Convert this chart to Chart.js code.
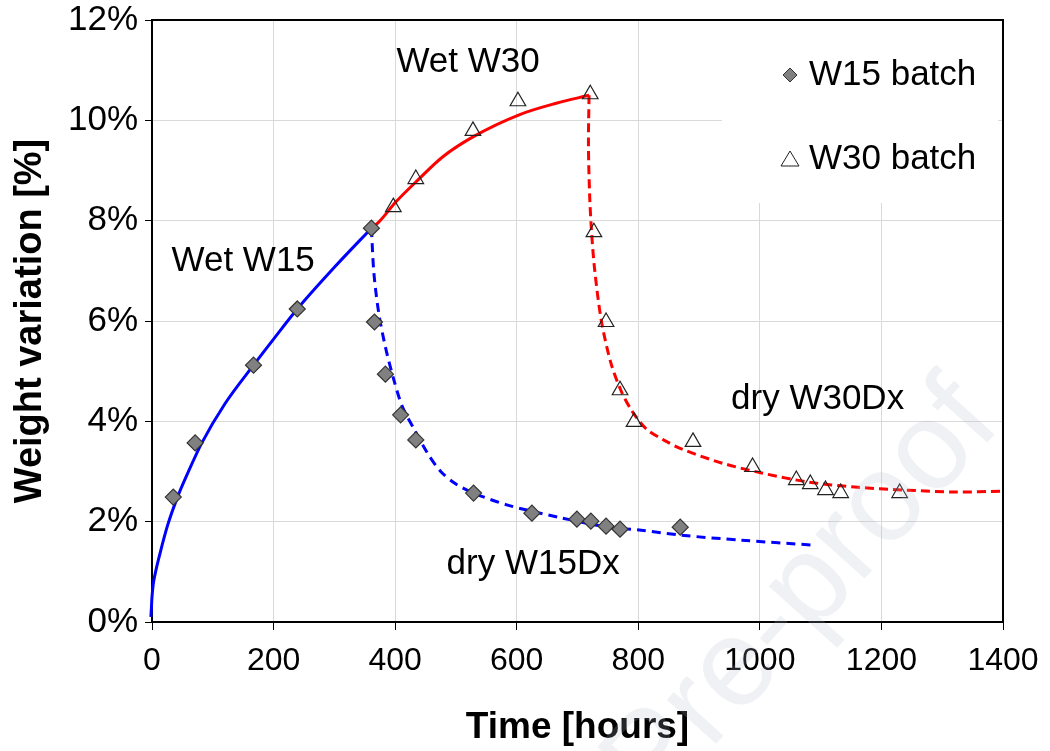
<!DOCTYPE html>
<html>
<head>
<meta charset="utf-8">
<title>Weight variation</title>
<script src="https://cdn.jsdelivr.net/npm/chart.js@4.4.1/dist/chart.umd.min.js"></script>
<style>
  body { margin: 0; background: #fff; }
  #wrap { width: 1050px; height: 751px; position: relative; }
</style>
</head>
<body>
<div id="wrap"><canvas id="weightChart"></canvas></div>
<script>
// Measured points
const w15Hours = [35, 71, 167, 239, 361, 366, 384, 409, 434, 529, 625, 699, 722, 747, 770, 869];
const w15Weight = [2.49, 3.57, 5.12, 6.24, 7.85, 5.98, 4.94, 4.13, 3.63, 2.57, 2.17, 2.05, 2.01, 1.91, 1.85, 1.89];
const w30Hours = [397, 434, 528, 602, 721, 727, 747, 770, 793, 890, 988, 1060, 1083, 1108, 1133, 1230];
const w30Weight = [8.27, 8.83, 9.79, 10.38, 10.52, 7.77, 5.98, 4.62, 3.99, 3.59, 3.09, 2.83, 2.75, 2.63, 2.57, 2.57];

// Model curves
const wetW15Hours = [-11, -2, 0, 2, 5, 13, 26, 42, 60, 82, 120, 167, 200, 239, 300, 361];
const wetW15Pct = [-0.06, 0.1, 0.5, 0.75, 0.95, 1.36, 1.94, 2.49, 3.0, 3.57, 4.35, 5.12, 5.64, 6.24, 7.07, 7.85];
const wetW30Hours = [361, 373, 401, 434, 478, 528, 604, 665, 719];
const wetW30Pct = [7.85, 7.97, 8.37, 8.77, 9.27, 9.67, 10.11, 10.34, 10.5];
const dryW15Hours = [361, 365, 373, 384, 398, 412, 431, 454, 475, 500, 529, 585, 668, 750, 805, 871, 970, 1090];
const dryW15Pct = [7.85, 6.96, 6.16, 5.48, 4.82, 4.29, 3.85, 3.35, 3.0, 2.75, 2.57, 2.33, 2.09, 1.89, 1.83, 1.73, 1.63, 1.53];
const dryW30Hours = [719, 718, 720, 723, 728, 739, 755, 772, 790, 813, 843, 871, 937, 1003, 1080, 1156, 1239, 1321, 1400];
const dryW30Pct = [10.5, 9.5, 8.5, 7.8, 7.05, 6.02, 5.16, 4.6, 4.2, 3.85, 3.62, 3.45, 3.17, 2.97, 2.79, 2.69, 2.63, 2.59, 2.61];

const xTicks = [0, 200, 400, 600, 800, 1000, 1200, 1400];
const yTicks = [0, 2, 4, 6, 8, 10, 12];

const labels = [
    { text: 'Wet W15', x: 150, y: 7.18 },
    { text: 'Wet W30', x: 520, y: 11.16 },
    { text: 'dry W15Dx', x: 627, y: 1.14 },
    { text: 'dry W30Dx', x: 1095, y: 4.44 }
];

const toXY = (xs, ys) => xs.map((x, i) => ({ x: x, y: ys[i] }));
const FONT = 'Liberation Sans, Arial, sans-serif';

// White box behind the legend, then legend, labels, frame and watermark
const decorPlugin = {
    id: 'decor',
    beforeDatasetsDraw(chart) {
        const ctx = chart.ctx;
        ctx.save();
        ctx.fillStyle = '#fff';
        ctx.fillRect(722, chart.chartArea.top + 1, 276, 182);
        ctx.restore();
    },
    afterDatasetsDraw(chart) {
        const ctx = chart.ctx;
        const xs = chart.scales.x, ys = chart.scales.y;
        ctx.save();
        ctx.fillStyle = '#000';
        ctx.font = '35px ' + FONT;
        ctx.textBaseline = 'middle';
        ctx.textAlign = 'center';
        labels.forEach(l => ctx.fillText(l.text, xs.getPixelForValue(l.x), ys.getPixelForValue(l.y)));

        // legend
        ctx.textAlign = 'left';
        ctx.fillText('W15 batch', 809, 75);
        ctx.fillText('W30 batch', 809, 159);
        ctx.lineWidth = 1;
        ctx.strokeStyle = '#333';
        ctx.fillStyle = '#808080';
        ctx.beginPath();
        ctx.moveTo(790, 68); ctx.lineTo(797, 75); ctx.lineTo(790, 82); ctx.lineTo(783, 75);
        ctx.closePath(); ctx.fill(); ctx.stroke();
        ctx.fillStyle = '#fff';
        ctx.strokeStyle = '#222';
        ctx.beginPath();
        ctx.moveTo(790, 151); ctx.lineTo(799, 166); ctx.lineTo(781, 166);
        ctx.closePath(); ctx.fill(); ctx.stroke();

        // top and right frame
        const a = chart.chartArea;
        ctx.strokeStyle = '#000';
        ctx.lineWidth = 2;
        ctx.beginPath();
        ctx.moveTo(a.left, a.top); ctx.lineTo(a.right, a.top); ctx.lineTo(a.right, a.bottom);
        ctx.stroke();
        ctx.restore();
    },
    afterDraw(chart) {
        const ctx = chart.ctx;
        ctx.save();
        ctx.translate(1003, 425);
        ctx.rotate(-48 * Math.PI / 180);
        ctx.font = '125px ' + FONT;
        ctx.textAlign = 'right';
        ctx.textBaseline = 'alphabetic';
        ctx.fillStyle = 'rgba(175, 185, 200, 0.2)';
        ctx.fillText('Journal Pre-proof', 0, 0);
        ctx.restore();
    }
};

const markerDefaults = { showLine: false, borderWidth: 1.2 };
const curveDefaults = { showLine: true, pointRadius: 0, borderWidth: 3, tension: 0.3, fill: false };

new Chart(document.getElementById('weightChart'), {
    type: 'scatter',
    data: {
        datasets: [
            Object.assign({ label: 'W15 batch', data: toXY(w15Hours, w15Weight), pointStyle: 'rectRot',
                pointRadius: 8, backgroundColor: '#808080', borderColor: '#333' }, markerDefaults),
            Object.assign({ label: 'W30 batch', data: toXY(w30Hours, w30Weight), pointStyle: 'triangle',
                pointRadius: 9, backgroundColor: 'rgba(255,255,255,0)', borderColor: '#222' }, markerDefaults),
            Object.assign({ label: 'Wet W15', data: toXY(wetW15Hours, wetW15Pct), borderColor: '#0000ff', clip: false },
                curveDefaults, { cubicInterpolationMode: 'monotone' }),
            Object.assign({ label: 'Wet W30', data: toXY(wetW30Hours, wetW30Pct), borderColor: '#ff0000' },
                curveDefaults, { cubicInterpolationMode: 'monotone' }),
            Object.assign({ label: 'dry W15Dx', data: toXY(dryW15Hours, dryW15Pct), borderColor: '#0000ff', borderDash: [9, 6] }, curveDefaults),
            Object.assign({ label: 'dry W30Dx', data: toXY(dryW30Hours, dryW30Pct), borderColor: '#ff0000', borderDash: [9, 5] }, curveDefaults)
        ]
    },
    options: {
        responsive: true,
        maintainAspectRatio: false,
        animation: false,
        layout: { padding: { top: 20, right: 47, left: 0, bottom: 0 } },
        plugins: { legend: { display: false }, tooltip: { enabled: false } },
        scales: {
            x: {
                type: 'linear', min: 0, max: 1400,
                afterBuildTicks: s => { s.ticks = xTicks.map(v => ({ value: v })); },
                afterFit: s => { s.height = 129; s.paddingLeft = 0; s.paddingRight = 0; },
                ticks: { color: '#000', font: { family: FONT, size: 32 }, padding: 12, maxRotation: 0,
                    callback: v => String(v) },
                grid: { color: '#d9d9d9', tickColor: '#000', tickLength: 8, lineWidth: 1 },
                border: { color: '#000', width: 2 },
                title: { display: true, text: 'Time [hours]', color: '#000',
                    font: { family: FONT, size: 37, weight: 'bold' }, padding: { bottom: 1 } }
            },
            y: {
                min: 0, max: 12,
                afterBuildTicks: s => { s.ticks = yTicks.map(v => ({ value: v })); },
                afterFit: s => { s.width = 152; s.paddingTop = 0; s.paddingBottom = 0; },
                ticks: { color: '#000', font: { family: FONT, size: 35 }, padding: 7, callback: v => v + '%' },
                grid: { color: '#d9d9d9', tickColor: '#000', tickLength: 7, lineWidth: 1 },
                border: { color: '#000', width: 2 },
                title: { display: true, text: 'Weight variation [%]', color: '#000',
                    font: { family: FONT, size: 38, weight: 'bold' }, padding: { top: 8 } }
            }
        }
    },
    plugins: [decorPlugin]
});
</script>
</body>
</html>
